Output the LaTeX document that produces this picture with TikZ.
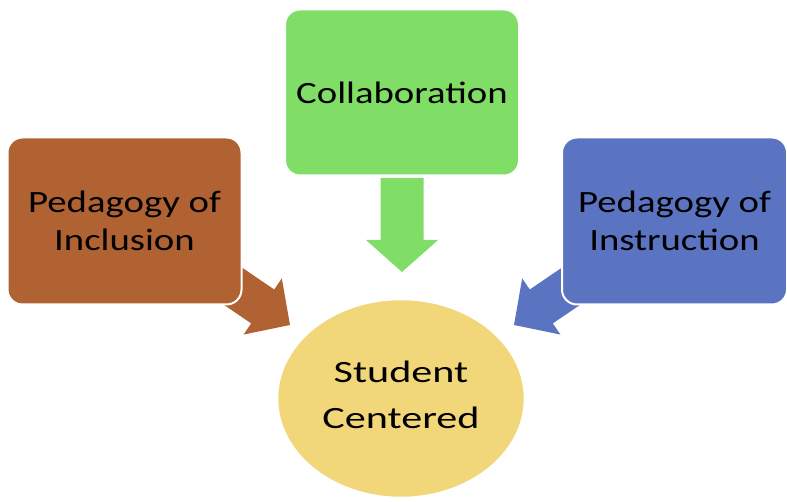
\documentclass[tikz,border=0pt]{standalone}
\usepackage{fontspec}
\setmainfont{Carlito}
\usepackage{graphicx}
\usetikzlibrary{shapes.geometric}
\definecolor{brownbox}{RGB}{176,98,50}
\definecolor{greenbox}{RGB}{128,221,102}
\definecolor{bluebox}{RGB}{91,116,193}
\definecolor{yellowc}{RGB}{242,214,122}
\newcommand\wide[1]{\scalebox{1.25}[1]{#1}}
\newcommand\wider[1]{\scalebox{1.36}[1]{#1}}
\tikzset{
  boxnode/.style={rectangle, rounded corners=15pt, draw=white, line width=2pt,
    inner sep=0pt, align=center, font=\fontsize{31}{38}\selectfont},
}
\begin{document}
\begin{tikzpicture}[x=1pt,y=-1pt]
\useasboundingbox (0,0) rectangle (787,502);
% block arrows (behind the boxes)
\begin{scope}[shift={(402,272)}, rotate=-90]
  \fill[greenbox] (0,0) -- (-32,36) -- (-32,21.5) -- (-94,21.5) -- (-94,-21.5) -- (-32,-21.5) -- (-32,-36) -- cycle;
\end{scope}
\begin{scope}[shift={(290,325)}, rotate=-34.2]
  \fill[brownbox] (0,0) -- (-33,34) -- (-33,20.5) -- (-110,20.5) -- (-110,-20.5) -- (-33,-20.5) -- (-33,-34) -- cycle;
\end{scope}
\begin{scope}[shift={(514,325)}, rotate=-145.8]
  \fill[bluebox] (0,0) -- (-33,34) -- (-33,20.5) -- (-110,20.5) -- (-110,-20.5) -- (-33,-20.5) -- (-33,-34) -- cycle;
\end{scope}
% boxes
\node[boxnode, fill=greenbox, minimum width=234pt, minimum height=166pt] (collab) at (402,92.5) {\wide{Collaboration}};
\node[boxnode, fill=brownbox, minimum width=234pt, minimum height=167pt] (incl) at (124.5,221) {\wide{Pedagogy of}\\\wide{Inclusion}};
\node[boxnode, fill=bluebox, minimum width=225pt, minimum height=167pt] (instr) at (674.5,221) {\wide{Pedagogy of}\\\wide{Instruction}};
% circle
\node[ellipse, fill=yellowc, draw=white, line width=1.5pt, minimum width=247pt, minimum height=198pt, inner sep=0pt] (student) at (401,398.5) {};
\node[inner sep=0pt, align=center, font=\fontsize{31}{46}\selectfont] (studenttext) at ([yshift=4pt]student.center) {\wider{Student}\\\wider{Centered}};
\end{tikzpicture}
\end{document}
